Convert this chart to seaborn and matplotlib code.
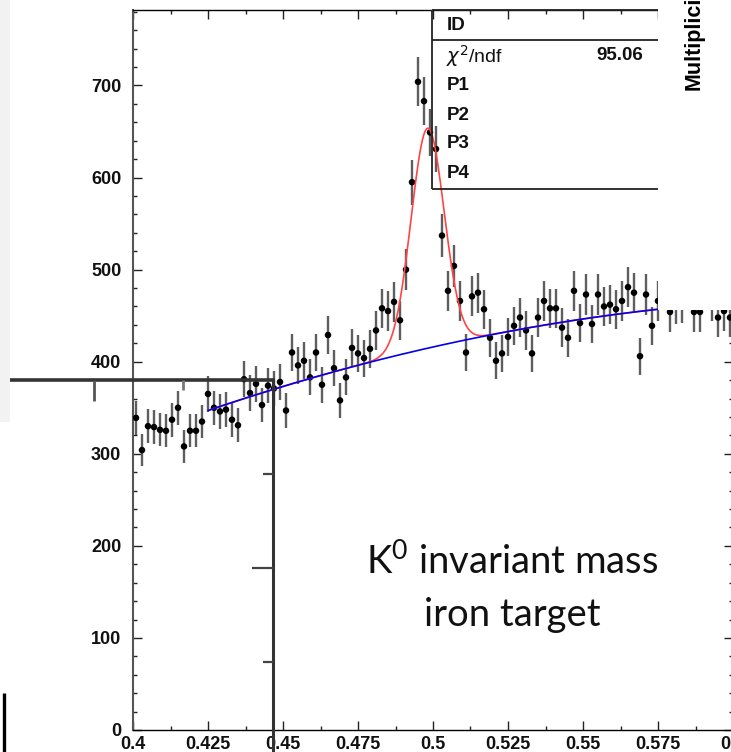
import numpy as np
import pandas as pd
import matplotlib
matplotlib.use("Agg")
import matplotlib.pyplot as plt
from matplotlib.patches import Rectangle
from matplotlib.ticker import MultipleLocator, FixedLocator, FixedFormatter
import seaborn as sns

# K0 candidate invariant mass, 100 bins on [0.4, 0.6]
bin_lo, bin_hi, n_bins = 0.4, 0.6, 100
counts = [
    339, 304, 330, 329, 326, 325, 337, 350, 308, 325,
    325, 335, 365, 350, 346, 348, 337, 331, 381, 366,
    376, 353, 374, 371, 378, 347, 410, 396, 401, 383,
    410, 375, 429, 393, 358, 383, 415, 409, 404, 414,
    434, 458, 455, 465, 445, 500, 595, 704, 683, 649,
    631, 537, 477, 504, 466, 410, 471, 475, 457, 426,
    401, 409, 427, 439, 448, 434, 409, 448, 466, 458,
    458, 437, 426, 477, 442, 473, 441, 473, 460, 462,
    457, 466, 481, 475, 406, 473, 439, 466, 485, 454,
    462, 464, 482, 454, 454, 480, 466, 448, 455, 448,
]

# gaussian signal on a 2nd order polynomial background (expanded about 0.5)
fit_lo, fit_hi = 0.425, 0.575
gaus_amp, gaus_mean, gaus_sigma = 239.0, 0.4982, 0.0055
bkg_p0, bkg_p1, bkg_p2 = 416.0, 733.0, -2489.0

stat_names = ["P1", "P2", "P3", "P4"]
chi2_value = "95.06"

x_ticks = [0.4, 0.425, 0.45, 0.475, 0.5, 0.525, 0.55, 0.575, 0.6]
x_ticklabels = ["0.4", "0.425", "0.45", "0.475", "0.5", "0.525", "0.55", "0.575", "0.6"]
y_ticks = [0, 100, 200, 300, 400, 500, 600, 700]
y_ticklabels = ["0", "100", "200", "300", "400", "500", "600", "700"]

title_lines = [r"K$^{\mathregular{0}}$ invariant mass", "iron target"]

# ---------------------------------------------------------------------------
sns.set_theme(style="ticks")
plt.rcParams["font.family"] = ["Liberation Sans", "DejaVu Sans"]

W, H = 731, 752
fig = plt.figure(figsize=(W / 100, H / 100), dpi=100)
fig.patch.set_facecolor("white")

ax = fig.add_axes([133 / W, 22 / H, 600 / W, 720 / H])
ax.set_facecolor("white")

width = (bin_hi - bin_lo) / n_bins
centers = bin_lo + width * (np.arange(n_bins) + 0.5)
hist = pd.DataFrame({"mass": centers, "entries": np.asarray(counts, float)})
hist["err"] = np.sqrt(hist["entries"])

ax.errorbar(hist["mass"], hist["entries"], yerr=hist["err"], fmt="none",
            ecolor="#5e5e5e", elinewidth=1.7, capsize=0, zorder=2)
sns.scatterplot(data=hist, x="mass", y="entries", ax=ax, color="black",
                s=22, edgecolor="none", linewidth=0, zorder=3, legend=False)

xf = np.linspace(fit_lo, fit_hi, 400)
bkg = bkg_p0 + bkg_p1 * (xf - 0.5) + bkg_p2 * (xf - 0.5) ** 2
total = bkg + gaus_amp * np.exp(-0.5 * ((xf - gaus_mean) / gaus_sigma) ** 2)
curves = pd.DataFrame({"mass": xf, "total": total, "bkg": bkg})
sns.lineplot(data=curves, x="mass", y="total", ax=ax, color="#ff4444",
             linewidth=1.2, zorder=4, sort=False)
sns.lineplot(data=curves, x="mass", y="bkg", ax=ax, color="#0000ee",
             linewidth=1.2, zorder=5, sort=False)

ax.set_xlim(bin_lo, bin_hi)
ax.set_ylim(0, 782)
ax.set_xlabel("")
ax.set_ylabel("")
ax.xaxis.set_major_locator(FixedLocator(x_ticks))
ax.xaxis.set_major_formatter(FixedFormatter(x_ticklabels))
ax.yaxis.set_major_locator(FixedLocator(y_ticks))
ax.yaxis.set_major_formatter(FixedFormatter(y_ticklabels))
ax.xaxis.set_minor_locator(MultipleLocator(0.0125))
ax.yaxis.set_minor_locator(MultipleLocator(20))
ax.tick_params(which="both", direction="in", top=True, right=True,
               colors="#222222", width=1.0)
ax.tick_params(which="major", length=6.5)
ax.tick_params(which="minor", length=3.2)
ax.tick_params(axis="x", pad=4.0, labelsize=13)
ax.tick_params(axis="y", pad=8.5, labelsize=13)
for lab in ax.get_xticklabels() + ax.get_yticklabels():
    lab.set_fontweight("bold")
    lab.set_color("#111111")
for side in ["top", "bottom", "right"]:
    ax.spines[side].set_color("black")
    ax.spines[side].set_linewidth(1.0)
ax.spines["left"].set_color("#555555")
ax.spines["left"].set_linewidth(1.5)

# ---------------------------------------------------------------------------
# page overlay in pixel coordinates
ov = fig.add_axes([0, 0, 1, 1])
ov.set_xlim(0, W)
ov.set_ylim(H, 0)
ov.axis("off")
ov.patch.set_alpha(0)

# annotation below the peak
title_font = dict(family=["Lato", "DejaVu Sans"], fontsize=27.5, color="#111111",
                  ha="center", va="baseline")
ov.text(512, 575, title_lines[0], **title_font)
ov.text(512, 626, title_lines[1], **title_font)

# neighbouring panel remnants
ov.add_patch(Rectangle((0, 0), 10, 422, facecolor="#f2f2f2", edgecolor="none", zorder=1))
ov.plot([10, 274.5], [380, 380], color="#333333", lw=2.6, solid_capstyle="butt", zorder=3)
ov.plot([273, 273], [380, 760], color="#333333", lw=2.2, solid_capstyle="butt", zorder=3)
ov.plot([93.8, 93.8], [380, 401], color="#555555", lw=2.0, solid_capstyle="butt", zorder=3)
ov.plot([183, 183], [380, 390], color="#777777", lw=2.0, solid_capstyle="butt", zorder=3)
for yy, ln in [(474, 10), (568, 21), (662, 10)]:
    ov.plot([273 - ln, 273], [yy, yy], color="#444444", lw=1.6, solid_capstyle="butt", zorder=3)
ov.plot([4.3, 4.3], [693, 760], color="black", lw=2.4, solid_capstyle="butt", zorder=3)

# right-hand cover with rotated axis title of the next panel
ov.add_patch(Rectangle((657.5, -5), 90, 315, facecolor="white", edgecolor="none", zorder=2))
ov.text(694, 90, "Multiplicity", rotation=90, ha="center", va="bottom",
        fontsize=15.5, fontweight="bold", color="black", zorder=4)

# fit statistics box
box_kw = dict(color="#222222", lw=1.3, solid_capstyle="butt", zorder=5)
ov.plot([432, 432], [10, 189], **box_kw)
ov.plot([432, 657.5], [40, 40], **box_kw)
ov.plot([432, 657.5], [189, 189], **box_kw)
ov.plot([432, 657.5], [10, 10], **box_kw)
stat_font = dict(fontsize=13.5, fontweight="bold", color="#111111", va="center", zorder=6)
ov.text(447, 25, "ID", **stat_font)
ov.text(446, 56, r"$\chi^{2}$/ndf", fontsize=14, color="#111111", va="center", zorder=6)
ov.text(643, 55, chi2_value, ha="right", **stat_font)
for name, yy in zip(stat_names, [86, 115, 144, 173]):
    ov.text(447, yy, name, **stat_font)

fig.savefig("out.png", dpi=100, facecolor="white")
